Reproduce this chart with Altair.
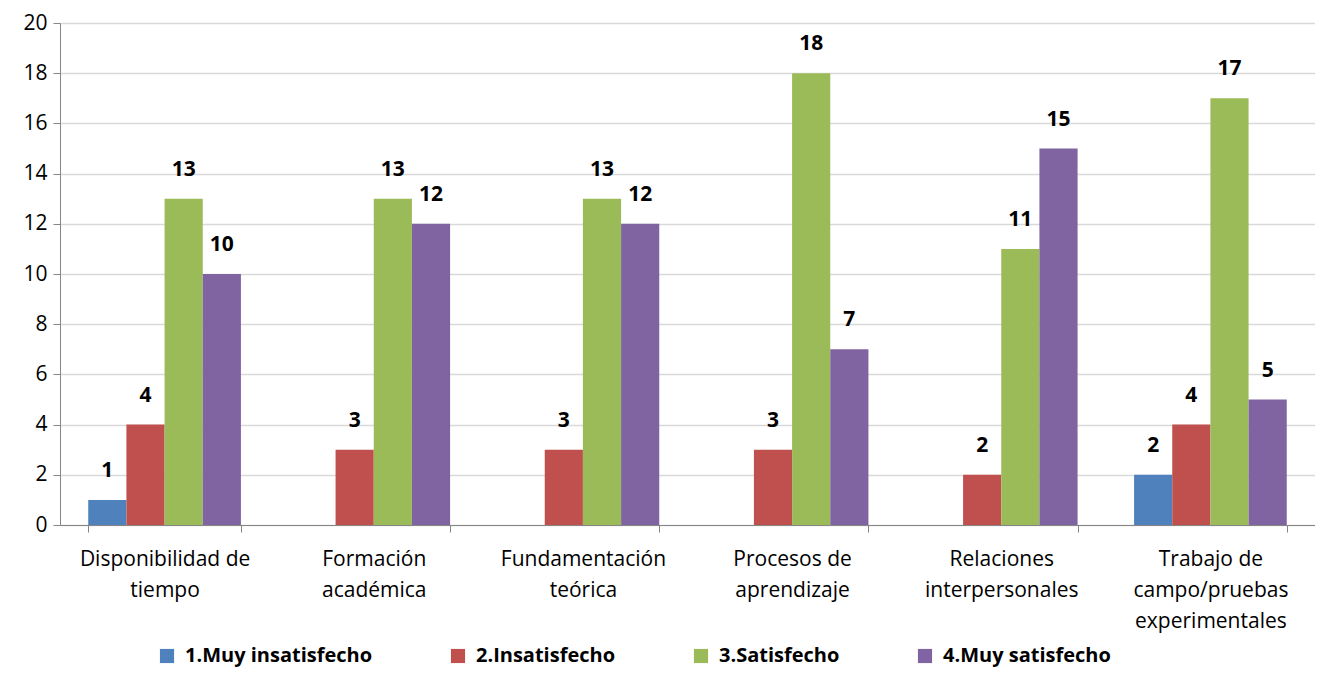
import altair as alt
import pandas as pd

categories = [
    "Disponibilidad de|tiempo",
    "Formación|académica",
    "Fundamentación|teórica",
    "Procesos de|aprendizaje",
    "Relaciones|interpersonales",
    "Trabajo de|campo/pruebas|experimentales",
]
series = ["1.Muy insatisfecho", "2.Insatisfecho", "3.Satisfecho", "4.Muy satisfecho"]
muy_insatisfecho = [1, 0, 0, 0, 0, 2]
insatisfecho = [4, 3, 3, 3, 2, 4]
satisfecho = [13, 13, 13, 18, 11, 17]
muy_satisfecho = [10, 12, 12, 7, 15, 5]
colors = ["#4F81BD", "#C0504D", "#9BBB59", "#8064A2"]

rows = []
for s, vals in zip(series, [muy_insatisfecho, insatisfecho, satisfecho, muy_satisfecho]):
    for c, v in zip(categories, vals):
        rows.append({"cat": c, "serie": s, "valor": v})
df = pd.DataFrame(rows)

FONT = "Open Sans"
FS = 21

x = alt.X(
    "cat:N",
    sort=categories,
    title=None,
    scale=alt.Scale(paddingInner=0.27, paddingOuter=0.135),
    axis=alt.Axis(
        labelAngle=0,
        labelExpr="split(datum.label, '|')",
        labelFontSize=FS,
        labelLineHeight=31,
        labelColor="#000000",
        labelFont=FONT,
        labelPadding=16,
        labelLimit=0,
        tickBand="extent",
        tickSize=7,
        tickColor="#868686",
        domainColor="#868686",
        labelBaseline="top",
    ),
)
xo = alt.XOffset("serie:N", sort=series, scale=alt.Scale(paddingInner=0, paddingOuter=0))
y = alt.Y(
    "valor:Q",
    title=None,
    scale=alt.Scale(domain=[0, 20], nice=False),
    axis=alt.Axis(
        values=list(range(0, 21, 2)),
        labelFontSize=FS,
        labelColor="#000000",
        labelFont=FONT,
        labelPadding=6,
        tickSize=7,
        tickColor="#868686",
        domainColor="#868686",
        gridColor="#D9D9D9",
        gridWidth=1.5,
    ),
)
color = alt.Color(
    "serie:N",
    sort=series,
    scale=alt.Scale(domain=series, range=colors),
    legend=alt.Legend(
        title=None,
        orient="none",
        direction="horizontal",
        legendX=97,
        legendY=623,
        symbolType="square",
        symbolSize=200,
        symbolStrokeWidth=0,
        symbolOpacity=1,
        labelFontSize=20,
        labelFontWeight="bold",
        labelFont=FONT,
        labelColor="#000000",
        labelOffset=8,
        labelLimit=0,
        columnPadding=75,
    ),
)

base = alt.Chart(df)
bars = base.mark_bar(opacity=1).encode(x=x, xOffset=xo, y=y, color=color)
labels = base.transform_filter("datum.valor > 0").mark_text(
    fontSize=FS, fontWeight="bold", font=FONT, color="#000000", baseline="bottom", dy=-19
).encode(x=x, xOffset=xo, y=y, text="valor:Q")

chart = (
    alt.layer(bars, labels)
    .properties(
        width=1255,
        height=502,
        autosize=alt.AutoSizeParams(type="none"),
        padding={"left": 52, "top": 15, "right": 0, "bottom": 142},
    )
    .configure_view(stroke=None)
    .configure_axisX(grid=False)
)

chart.save("out.html", embed_options={"renderer": "svg", "actions": False})
